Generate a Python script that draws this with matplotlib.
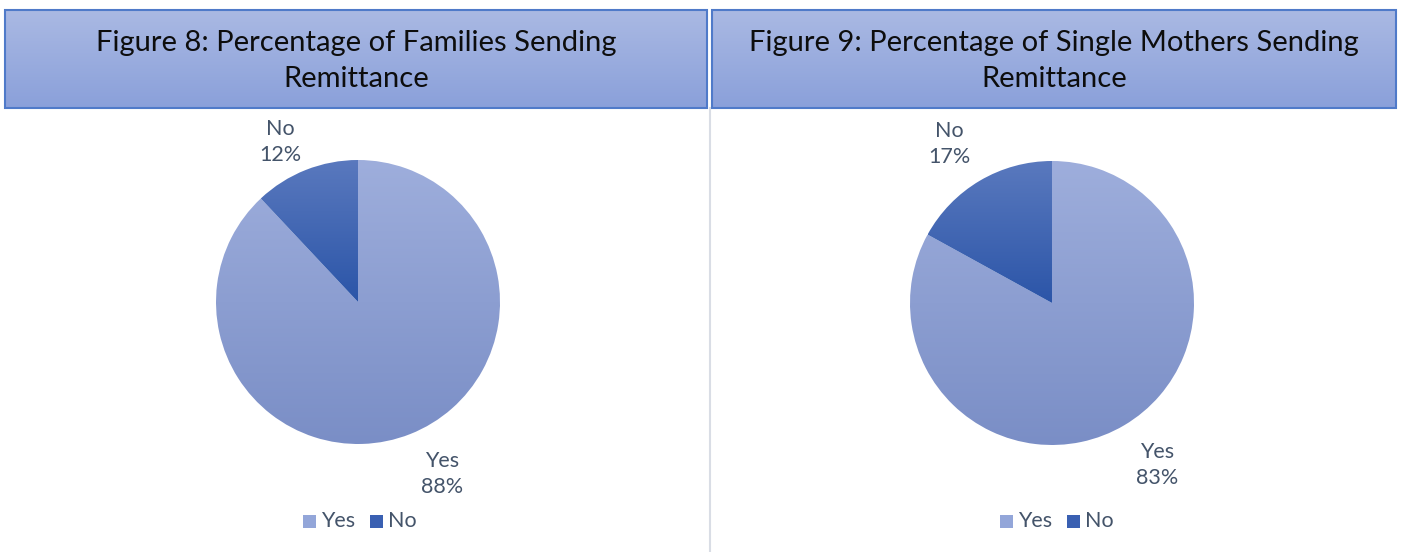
import numpy as np
import matplotlib.pyplot as plt
from matplotlib.patches import Rectangle
from matplotlib.colors import LinearSegmentedColormap

plt.rcParams['font.family'] = ['Lato', 'DejaVu Sans']

# data
labels = ['Yes', 'No']
families = [88, 12]
single_mothers = [83, 17]
titles = ['Figure 8: Percentage of Families Sending\nRemittance',
          'Figure 9: Percentage of Single Mothers Sending\nRemittance']

W, H = 1401, 552
TXT = '#44546a'
yes_cmap = LinearSegmentedColormap.from_list('yes', ['#7a8ec6', '#9eaedc'])
no_cmap = LinearSegmentedColormap.from_list('no', ['#2b55a8', '#5a79be'])
hdr_cmap = LinearSegmentedColormap.from_list('hdr', ['#8aa0da', '#aab9e3'])

fig = plt.figure(figsize=(W / 100, H / 100), dpi=100)
ax = fig.add_axes([0, 0, 1, 1])
grad = np.linspace(0, 1, 256).reshape(-1, 1)


def fill_gradient(patch, cmap, x0, x1, y0, y1):
    im = ax.imshow(grad, cmap=cmap, origin='lower', extent=(x0, x1, y0, y1),
                   aspect='auto', zorder=2, interpolation='bicubic')
    im.set_clip_path(patch)


panels = [
    dict(vals=families, title=titles[0], box=(5, 707), cx=358, cy=302,
         lab_pos=[(442, 474), (280, 142)], leg_x=358),
    dict(vals=single_mothers, title=titles[1], box=(712, 1396), cx=1052, cy=303,
         lab_pos=[(1157, 465), (949, 144)], leg_x=1055),
]
r = 142

for p in panels:
    # header box with gradient
    x0, x1 = p['box']
    hb = Rectangle((x0, H - 108), x1 - x0, 98, facecolor='none',
                   edgecolor='#4f7ac9', lw=1.5, zorder=3)
    ax.add_patch(hb)
    bg = Rectangle((x0, H - 108), x1 - x0, 98, facecolor='none', edgecolor='none')
    ax.add_patch(bg)
    fill_gradient(bg, hdr_cmap, x0, x1, H - 108, H - 10)
    ax.text((x0 + x1) / 2, H - 61, p['title'], ha='center', va='center',
            fontsize=21, color='#0d0d0d', linespacing=1.45, zorder=4)

    cy = H - p['cy']
    wedges, _ = ax.pie(p['vals'], startangle=90, counterclock=False,
                       center=(p['cx'], cy), radius=r, frame=True,
                       wedgeprops=dict(facecolor='none', edgecolor='none'))
    fill_gradient(wedges[0], yes_cmap, p['cx'] - r, p['cx'] + r, cy - r, cy + r)
    # the small slice gets its own gradient over its bounding box
    bb = wedges[1].get_path().get_extents(wedges[1].get_transform())
    inv = ax.transData.inverted()
    (bx0, by0), (bx1, by1) = inv.transform([[bb.x0, bb.y0], [bb.x1, bb.y1]])
    fill_gradient(wedges[1], no_cmap, bx0, bx1, by0, by1)

    for lab, v, (lx, ly) in zip(labels, p['vals'], p['lab_pos']):
        ax.text(lx, H - ly, f'{lab}\n{v}%', ha='center', va='center',
                fontsize=15.5, color=TXT, linespacing=1.38, zorder=4)

    # legend
    ly = H - 521
    lx = p['leg_x']
    ax.add_patch(Rectangle((lx - 55, ly - 6.5), 13, 13, facecolor='#93a6d9',
                           edgecolor='none', zorder=4))
    ax.text(lx - 37, ly, 'Yes', ha='left', va='center', fontsize=15.5,
            color=TXT, zorder=4)
    ax.add_patch(Rectangle((lx + 12, ly - 6.5), 13, 13, facecolor='#3a60b2',
                           edgecolor='none', zorder=4))
    ax.text(lx + 30, ly, 'No', ha='left', va='center', fontsize=15.5,
            color=TXT, zorder=4)

# light divider between the two charts
ax.plot([710, 710], [0, H - 108], color='#d9dde5', lw=1.5, zorder=1)

ax.set_xlim(0, W)
ax.set_ylim(0, H)
ax.set_aspect('auto')
ax.axis('off')

fig.savefig('out.png', dpi=100)
